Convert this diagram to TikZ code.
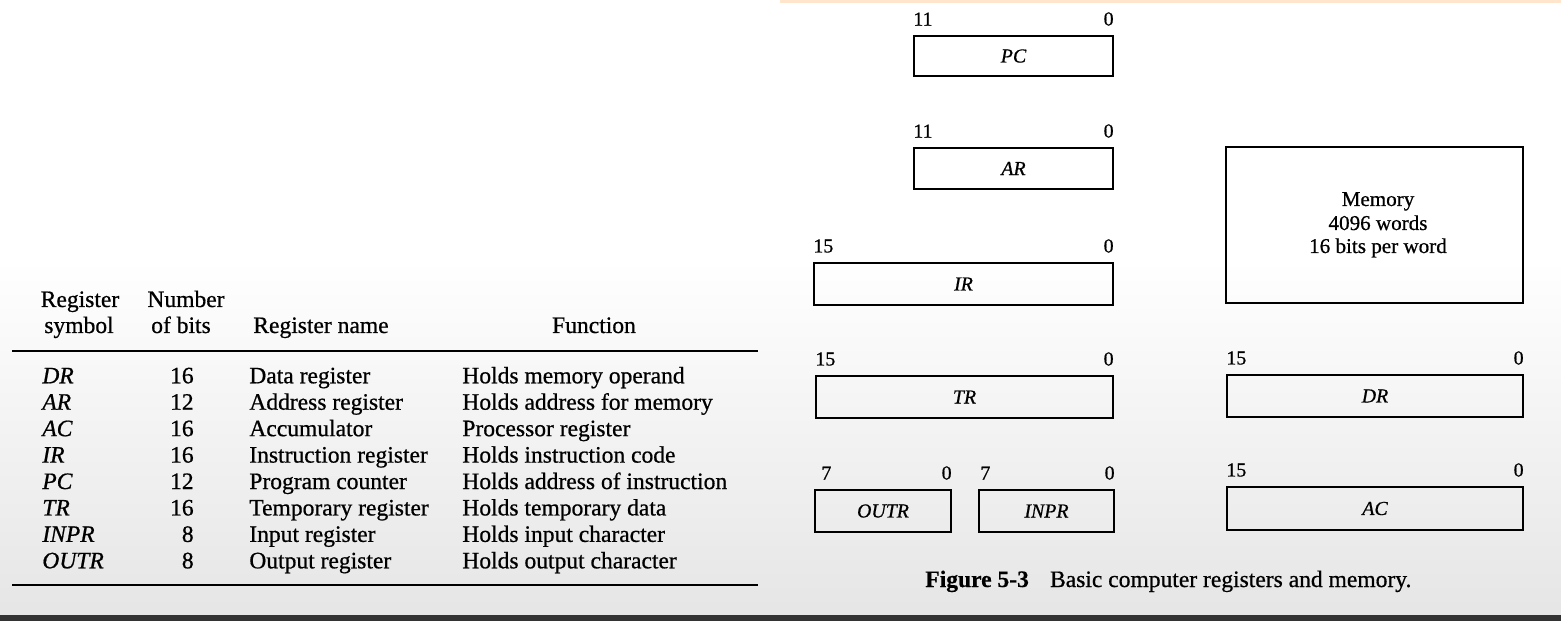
\documentclass[tikz,border=0pt]{standalone}
\usepackage{fontspec}
\setmainfont{Liberation Serif}[UprightFeatures={FakeBold=0.7}, ItalicFeatures={FakeBold=0.7}, BoldFeatures={FakeBold=0.4}]
\tikzset{
  regbox/.style={draw, line width=1.1pt, inner sep=0pt, font=\fontsize{11.3}{13}\selectfont\itshape},
  bitnum/.style={inner sep=0pt, font=\fontsize{11.3}{13}\selectfont},
  tabtxt/.style={inner sep=0pt, font=\fontsize{13.4}{15}\selectfont},
  tabsym/.style={inner sep=0pt, font=\fontsize{13.4}{15}\selectfont\itshape},
  tabrule/.style={line width=1.2pt},
  memtxt/.style={inner sep=0pt, font=\fontsize{12}{14}\selectfont, align=center},
}
\newcommand\regbits[3]{%
  \node[bitnum, anchor=south west] (#1hi) at ([yshift=0.18cm]#1.north west) {#2};
  \node[bitnum, anchor=south east] (#1lo) at ([yshift=0.18cm]#1.north east) {#3};}
\begin{document}
\begin{tikzpicture}[x=0.02cm, y=-0.02cm]
\useasboundingbox (0,0) rectangle (1561,621);
% background
\fill[white] (0,0) rectangle (1561,621);
\shade[top color=white, bottom color=black!10] (0,260) rectangle (1561,615);
\fill[black!80] (0,615) rectangle (1561,621);
\fill[orange!20] (780,0) rectangle (1561,3);

% ---------- table ----------
\node[tabtxt, anchor=base] (h1a) at (80,307) {Register};
\node[tabtxt, anchor=base] (h1b) at (79,333) {symbol};
\node[tabtxt, anchor=base] (h2a) at (186,307) {Number};
\node[tabtxt, anchor=base] (h2b) at (181,333) {of bits};
\node[tabtxt, anchor=base] (h3) at (321,333) {Register name};
\node[tabtxt, anchor=base] (h4) at (594,333) {Function};
\draw[tabrule] (12,351) -- (758,351);
\foreach \s/\n/\r/\f [count=\i] in {
  DR/16/Data register/Holds memory operand,
  AR/12/Address register/Holds address for memory,
  AC/16/Accumulator/Processor register,
  IR/16/Instruction register/Holds instruction code,
  PC/12/Program counter/Holds address of instruction,
  TR/16/Temporary register/Holds temporary data,
  INPR/8/Input register/Holds input character,
  OUTR/8/Output register/Holds output character}
{
  \pgfmathsetmacro\yy{383.3+(\i-1)*26.43}
  \node[tabsym, anchor=base west] (sym\i) at (42,\yy) {\s};
  \node[tabtxt, anchor=base east] (num\i) at (194,\yy) {\n};
  \node[tabtxt, anchor=base west] (nam\i) at (249,\yy) {\r};
  \node[tabtxt, anchor=base west] (fun\i) at (462,\yy) {\f};
}
\draw[tabrule] (12,585) -- (758,585);

% ---------- registers ----------
\node[regbox, minimum width=3.98cm, minimum height=0.80cm] (pc) at (1013.5,56) {PC};
\regbits{pc}{11}{0}
\node[regbox, minimum width=3.98cm, minimum height=0.82cm] (ar) at (1013.5,168.5) {AR};
\regbits{ar}{11}{0}
\node[regbox, minimum width=5.98cm, minimum height=0.84cm] (ir) at (963.5,284) {IR};
\regbits{ir}{15}{0}
\node[regbox, minimum width=5.94cm, minimum height=0.84cm] (tr) at (964.5,397) {TR};
\regbits{tr}{15}{0}
\node[regbox, minimum width=2.72cm, minimum height=0.84cm] (outr) at (883,511) {OUTR};
\node[bitnum, anchor=south west] (outrhi) at ([xshift=0.14cm, yshift=0.18cm]outr.north west) {7};
\node[bitnum, anchor=south east] (outrlo) at ([yshift=0.18cm]outr.north east) {0};
\node[regbox, minimum width=2.70cm, minimum height=0.84cm] (inpr) at (1046.5,511) {INPR};
\node[bitnum, anchor=south west] (inprhi) at ([xshift=0.04cm, yshift=0.18cm]inpr.north west) {7};
\node[bitnum, anchor=south east] (inprlo) at ([yshift=0.18cm]inpr.north east) {0};
\node[regbox, minimum width=5.94cm, minimum height=3.12cm] (mem) at (1374.5,225) {};
\node[memtxt, anchor=base] (m1) at (1378,206) {Memory};
\node[memtxt, anchor=base] (m2) at (1378,230) {4096 words};
\node[memtxt, anchor=base] (m3) at (1378,253) {16 bits per word};
\node[regbox, minimum width=5.92cm, minimum height=0.84cm] (dr) at (1375,396) {DR};
\regbits{dr}{15}{0}
\node[regbox, minimum width=5.92cm, minimum height=0.86cm] (ac) at (1375,508.5) {AC};
\regbits{ac}{15}{0}

% caption
\node[tabtxt, anchor=base west] (cap) at (925,587) {\textbf{Figure 5-3}\hspace{0.9em}Basic computer registers and memory.};
\end{tikzpicture}
\end{document}
